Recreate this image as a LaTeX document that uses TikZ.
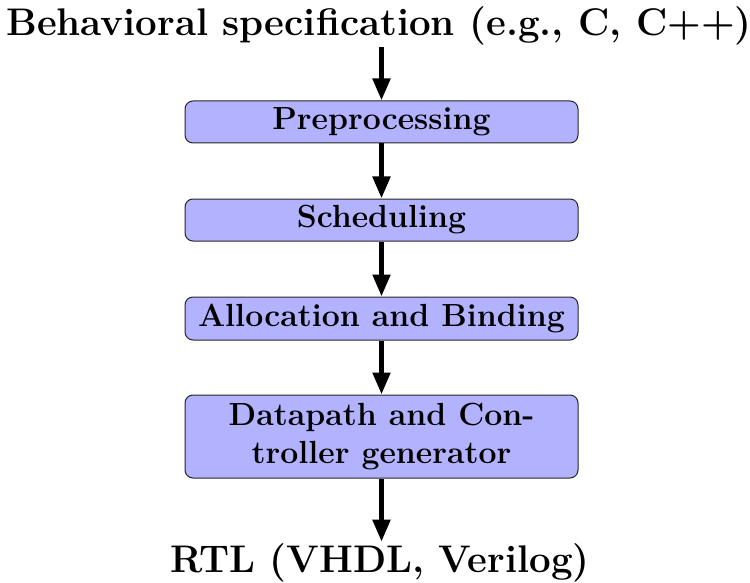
\documentclass[tikz,border=0pt]{standalone}
\usepackage{fontspec}
\usetikzlibrary{arrows.meta}
\begin{document}
\begin{tikzpicture}[x=0.5pt,y=-0.5pt,
  stagebox/.style={draw=black!85, line width=0.5pt, fill=blue!30, rounded corners=4pt,
    minimum width=196.5pt, inner sep=0pt, align=center,
    font=\fontsize{16}{19.2}\selectfont\bfseries},
  endtext/.style={inner sep=0.5pt, anchor=base, font=\fontsize{19.25}{23}\selectfont\bfseries},
  flow/.style={line width=2.5pt, -{Triangle[length=11pt,width=8.5pt]}}]
\useasboundingbox (0,0) rectangle (750,583);
\node[endtext] (spec) at (379,36) {Behavioral specification (e.g., C, C++)};
\node[stagebox, minimum height=21pt] (pre) at (381.5,122) {Preprocessing};
\node[stagebox, minimum height=21pt] (sch) at (381.5,220) {Scheduling};
\node[stagebox, minimum height=21.5pt] (alloc) at (381.5,318.5) {Allocation and Binding};
\node[stagebox, minimum height=41.5pt] (dp) at (381.5,436.5) {Datapath and Con-\\troller generator};
\node[endtext] (rtl) at (380,572) {RTL (VHDL, Verilog)};
\draw[flow] (spec.south -| pre.north) -- (pre.north);
\draw[flow] (pre) -- (sch);
\draw[flow] (sch) -- (alloc);
\draw[flow] (alloc) -- (dp);
\draw[flow] (dp.south) -- (dp.south |- rtl.north);
\end{tikzpicture}
\end{document}
